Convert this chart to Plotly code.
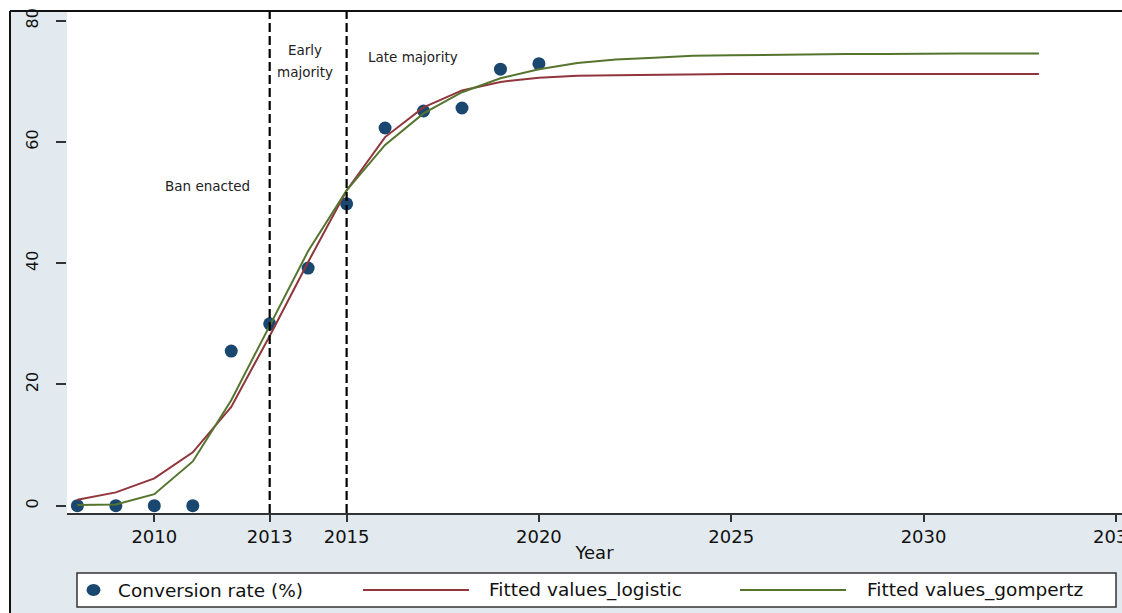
import plotly.graph_objects as go

# ---- data ----
obs_years = [2008, 2009, 2010, 2011, 2012, 2013, 2014, 2015, 2016, 2017, 2018, 2019, 2020]
conversion_rate = [0.0, 0.0, 0.0, 0.0, 25.5, 30.0, 39.2, 49.8, 62.3, 65.1, 65.6, 72.0, 72.9]

fit_years = list(range(2008, 2034))
fitted_logistic = [1.0, 2.2, 4.5, 8.8, 16.3, 28.0, 40.2, 52.0, 60.8, 65.7, 68.5, 69.9, 70.6,
                   70.9, 71.0, 71.1, 71.1, 71.2, 71.2, 71.2, 71.2, 71.2, 71.2, 71.2, 71.2, 71.2]
fitted_gompertz = [0.1, 0.2, 1.9, 7.3, 17.4, 29.8, 42.0, 52.0, 59.5, 64.7, 68.2, 70.5, 72.0,
                   73.0, 73.6, 73.9, 74.2, 74.3, 74.4, 74.5, 74.5, 74.5, 74.6, 74.6, 74.6, 74.6]

x_tickvals = [2010, 2013, 2015, 2020, 2025, 2030, 2035]
y_tickvals = [0, 20, 40, 60, 80]
phase_lines = [2013, 2015]
legend_labels = ["Conversion rate (%)", "Fitted values_logistic", "Fitted values_gompertz"]

# ---- styling ----
NAVY = "#1a476f"
MAROON = "#90353b"
GREEN = "#55752f"
BG = "#e2eaef"
FONT = "DejaVu Sans, Liberation Sans, Arial, sans-serif"

W, H = 1122, 613
ML, MR, MT, MB = 67, 0, 12, 100
PW = W - ML - MR
PH = H - MT - MB


def px(xpix):
    return (xpix - ML) / PW


def py(ypix):
    return (H - MB - ypix) / PH


fig = go.Figure()
fig.add_trace(go.Scatter(x=obs_years, y=conversion_rate, mode="markers", name=legend_labels[0],
                         marker=dict(color=NAVY, size=13, line=dict(width=0)), showlegend=False))
fig.add_trace(go.Scatter(x=fit_years, y=fitted_logistic, mode="lines", name=legend_labels[1],
                         line=dict(color=MAROON, width=2), showlegend=False))
fig.add_trace(go.Scatter(x=fit_years, y=fitted_gompertz, mode="lines", name=legend_labels[2],
                         line=dict(color=GREEN, width=2), showlegend=False))

shapes = []
# vertical dashed phase lines
for xv in phase_lines:
    shapes.append(dict(type="line", xref="x", yref="paper", x0=xv, x1=xv, y0=0, y1=1,
                       line=dict(color="black", width=2.2, dash="9px,4px")))
# outer white strips and black frame lines (top/left)
shapes.append(dict(type="rect", xref="paper", yref="paper", x0=px(0), x1=px(W + 5),
                   y0=py(10), y1=py(-5), fillcolor="white", line=dict(width=0), layer="below"))
shapes.append(dict(type="rect", xref="paper", yref="paper", x0=px(-5), x1=px(9),
                   y0=py(H + 5), y1=py(-5), fillcolor="white", line=dict(width=0), layer="below"))
shapes.append(dict(type="line", xref="paper", yref="paper", x0=px(10), x1=px(W + 5),
                   y0=py(11), y1=py(11), line=dict(color="#111", width=2), layer="below"))
shapes.append(dict(type="line", xref="paper", yref="paper", x0=px(10), x1=px(10),
                   y0=py(11), y1=py(H + 5), line=dict(color="#111", width=2), layer="below"))
# legend box
shapes.append(dict(type="rect", xref="paper", yref="paper", x0=px(77), x1=px(1116),
                   y0=py(607), y1=py(573), fillcolor="white", line=dict(color="#333", width=1.5)))
# legend symbols
shapes.append(dict(type="circle", xref="paper", yref="paper", x0=px(86.5), x1=px(100.5),
                   y0=py(596), y1=py(584), fillcolor=NAVY, line=dict(width=0)))
shapes.append(dict(type="line", xref="paper", yref="paper", x0=px(363), x1=px(469),
                   y0=py(590), y1=py(590), line=dict(color=MAROON, width=2)))
shapes.append(dict(type="line", xref="paper", yref="paper", x0=px(740), x1=px(846),
                   y0=py(590), y1=py(590), line=dict(color=GREEN, width=2)))

annotations = []
ann_font = dict(family=FONT, size=13.5, color="#222")
annotations.append(dict(x=2011.37, y=52.8, text="Ban enacted", showarrow=False, font=ann_font,
                        xanchor="center", yanchor="middle"))
annotations.append(dict(x=2013.92, y=75.2, text="Early", showarrow=False, font=ann_font,
                        xanchor="center", yanchor="middle"))
annotations.append(dict(x=2013.92, y=71.5, text="majority", showarrow=False, font=ann_font,
                        xanchor="center", yanchor="middle"))
annotations.append(dict(x=2016.72, y=74.0, text="Late majority", showarrow=False, font=ann_font,
                        xanchor="center", yanchor="middle"))
leg_font = dict(family=FONT, size=18.5, color="#111")
for xpix, lab in zip([116, 487, 865], legend_labels):
    annotations.append(dict(xref="paper", yref="paper", x=px(xpix), y=py(590), text=lab,
                            showarrow=False, font=leg_font, xanchor="left", yanchor="middle"))

fig.update_layout(
    width=W, height=H,
    margin=dict(l=ML, r=MR, t=MT, b=MB, pad=0),
    paper_bgcolor=BG, plot_bgcolor="white",
    font=dict(family=FONT, color="#111"),
    shapes=shapes, annotations=annotations,
    showlegend=False,
    xaxis=dict(range=[2007.73, 2035.16], tickvals=x_tickvals, ticks="outside", ticklen=7,
               tickwidth=1.5, tickcolor="#333", showline=True, linecolor="#333", linewidth=1.5,
               showgrid=False, zeroline=False, tickfont=dict(size=18, family=FONT, color="#111"),
               ticklabeloverflow="allow", automargin=False,
               title=dict(text="Year", font=dict(size=18, family=FONT, color="#111"), standoff=0)),
    yaxis=dict(range=[-1.2, 81.43], tickvals=y_tickvals, ticks="outside", ticklen=10,
               tickwidth=1.5, tickcolor="#333", showline=False, showgrid=False, zeroline=False,
               tickangle=-90, tickfont=dict(size=16, family=FONT, color="#111"),
               automargin=False, ticklabelstandoff=12),
)

fig.write_html("out.html", config={"displayModeBar": False},
               post_script="document.body.style.margin='0px';document.body.style.overflow='hidden';")
